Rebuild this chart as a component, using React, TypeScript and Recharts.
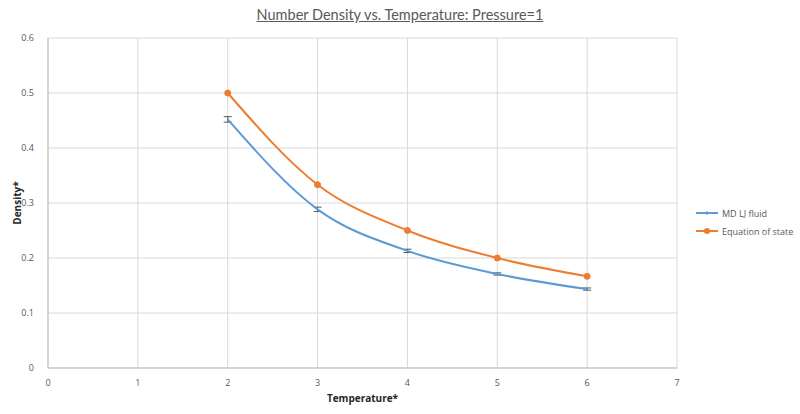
import React from 'react'
import {
  LineChart,
  Line,
  XAxis,
  YAxis,
  CartesianGrid,
  ErrorBar,
  Label,
} from 'recharts'

const temperatures = [2, 3, 4, 5, 6]
const mdDensity = [0.452, 0.2885, 0.213, 0.171, 0.1435]
const mdError = [0.005, 0.004, 0.003, 0.002, 0.002]
const eosDensity = [0.5, 0.3333, 0.25, 0.2, 0.1667]

const xTicks = [0, 1, 2, 3, 4, 5, 6, 7]
const yTicks = [0, 0.1, 0.2, 0.3, 0.4, 0.5, 0.6]

const data = temperatures.map((t, i) => ({
  t,
  md: mdDensity[i],
  mdErr: mdError[i],
  eos: eosDensity[i],
}))

const FONT = 'Open Sans, "Noto Sans", sans-serif'
const TITLE_FONT = 'Lato, "Open Sans", sans-serif'
const GREY = '#595959'

function LegendBox() {
  const items = [
    { name: 'MD LJ fluid', color: '#5b9bd5', dot: false },
    { name: 'Equation of state', color: '#ed7d31', dot: true },
  ]
  return (
    <div style={{ position: 'absolute', left: 695, top: 204, fontFamily: FONT, fontSize: 9, color: GREY }}>
      {items.map(it => (
        <div key={it.name} style={{ display: 'flex', alignItems: 'center', height: 18 }}>
          <svg width={24} height={8} style={{ marginRight: 3 }}>
            <line x1={1} y1={4} x2={23} y2={4} stroke={it.color} strokeWidth={2} />
            {it.dot ? (
              <circle cx={12} cy={4} r={3} fill={it.color} />
            ) : (
              <line x1={12} y1={2} x2={12} y2={6} stroke={it.color} strokeWidth={1} />
            )}
          </svg>
          <span>{it.name}</span>
        </div>
      ))}
    </div>
  )
}

export default function App() {
  return (
    <div style={{ position: 'absolute', left: 0, top: 0, width: 800, height: 414, background: '#fff' }}>
      <div
        style={{
          position: 'absolute',
          left: 0,
          top: 6,
          width: 800,
          textAlign: 'center',
          fontFamily: TITLE_FONT,
          fontSize: 14.5,
          color: GREY,
          textDecoration: 'underline',
        }}
      >
        Number Density vs. Temperature: Pressure=1
      </div>
      <LineChart
        width={800}
        height={414}
        data={data}
        margin={{ top: 38, right: 123, bottom: 6, left: 8 }}
      >
        <CartesianGrid stroke="#d9d9d9" strokeWidth={1} />
        <XAxis
          dataKey="t"
          type="number"
          domain={[0, 7]}
          ticks={xTicks}
          height={40}
          tickLine={false}
          axisLine={{ stroke: '#bfbfbf' }}
          tick={{ fill: GREY, fontSize: 9, fontFamily: FONT }}
          tickMargin={6}
        >
          <Label
            value="Temperature*"
            position="insideBottom"
            offset={6}
            style={{ fill: '#262626', fontSize: 10, fontWeight: 700, fontFamily: FONT }}
          />
        </XAxis>
        <YAxis
          type="number"
          domain={[0, 0.6]}
          ticks={yTicks}
          width={40}
          tickLine={false}
          axisLine={{ stroke: '#bfbfbf' }}
          tick={{ fill: GREY, fontSize: 9, fontFamily: FONT }}
          tickMargin={8}
          tickFormatter={(v: number) => String(v)}
        >
          <Label
            value="Density*"
            angle={-90}
            position="insideLeft"
            offset={9}
            style={{ fill: '#262626', fontSize: 10, fontWeight: 700, fontFamily: FONT, textAnchor: 'middle' }}
          />
        </YAxis>
        <Line
          type="monotone"
          dataKey="md"
          name="MD LJ fluid"
          stroke="#5b9bd5"
          strokeWidth={2}
          dot={false}
          isAnimationActive={false}
        >
          <ErrorBar dataKey="mdErr" width={4} stroke="#595959" strokeWidth={1} direction="y" />
        </Line>
        <Line
          type="monotone"
          dataKey="eos"
          name="Equation of state"
          stroke="#ed7d31"
          strokeWidth={2}
          dot={{ r: 3, fill: '#ed7d31', stroke: '#ed7d31', strokeWidth: 1 }}
          isAnimationActive={false}
        />
      </LineChart>
      <LegendBox />
    </div>
  )
}
